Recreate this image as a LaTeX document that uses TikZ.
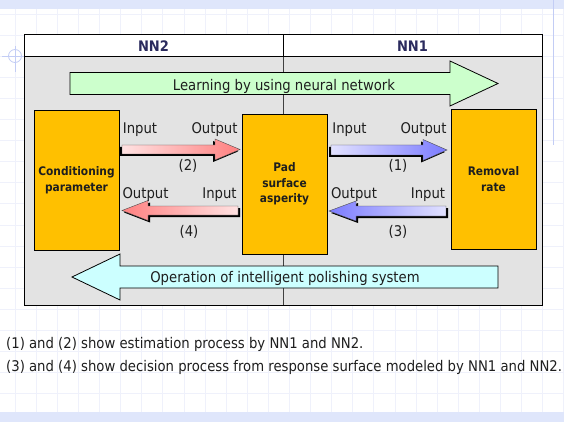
\documentclass[tikz,border=0pt]{standalone}
\usepackage{fontspec}
\setmainfont{DejaVu Sans}[FakeStretch=0.9]
\definecolor{gridc}{HTML}{EFF1FB}
\definecolor{bandc}{HTML}{DFE6FB}
\definecolor{guidec}{HTML}{C3CDF5}
\definecolor{panelc}{HTML}{E3E3E3}
\definecolor{boxc}{HTML}{FFC000}
\definecolor{greenc}{HTML}{CCFFCC}
\definecolor{cyanc}{HTML}{CCFFFF}
\definecolor{navy}{HTML}{2B2B5E}
\definecolor{redL}{HTML}{FFE2E2}
\definecolor{redD}{HTML}{FF8080}
\definecolor{bluL}{HTML}{E2E2FF}
\definecolor{bluD}{HTML}{7B7BFF}
\definecolor{txt}{HTML}{1E1E1E}
% #1 tail x, #2 tip x, #3 mid y, #4 shaft half, #5 head half, #6 head start x, #7 style, #8 shadow style
\newcommand\blockarrow[8]{%
  \path[#8] ({#1},{#3-#4}) -- ({#6},{#3-#4}) -- ({#6},{#3-#5}) -- ({#2},{#3}) -- ({#6},{#3+#5}) -- ({#6},{#3+#4}) -- ({#1},{#3+#4}) -- cycle;
  \path[#7] ({#1},{#3-#4}) -- ({#6},{#3-#4}) -- ({#6},{#3-#5}) -- ({#2},{#3}) -- ({#6},{#3+#5}) -- ({#6},{#3+#4}) -- ({#1},{#3+#4}) -- cycle;
}
\begin{document}
\begin{tikzpicture}[x=1pt,y=-1pt,
  lbl/.style={font=\fontsize{14.7}{17}\selectfont, text=txt, inner sep=0pt, anchor=base},
  hdr/.style={font=\bfseries\fontsize{14.5}{17}\selectfont, text=navy, inner sep=0pt},
  block/.style={draw=black, line width=0.8pt, fill=boxc, inner sep=0pt,
    minimum width=85pt, minimum height=140pt, align=center,
    font=\bfseries\fontsize{11.8}{15.5}\selectfont, text=txt},
  shadowR/.style={fill=black, shift={(-2,2)}},
  shadowL/.style={fill=black, shift={(2,2)}},
  redR/.style={left color=redL, right color=redD, draw=black!70, line width=0.4pt},
  redLf/.style={left color=redD, right color=redL, draw=black!70, line width=0.4pt},
  bluR/.style={left color=bluL, right color=bluD, draw=black!70, line width=0.4pt},
  bluLf/.style={left color=bluD, right color=bluL, draw=black!70, line width=0.4pt},
  nosh/.style={draw=none, fill=none}
]
\useasboundingbox (0,0) rectangle (564,422);
\fill[white] (0,0) rectangle (564,422);
% background grid
\foreach \k in {0,...,26} \draw[gridc, line width=0.5pt] ({15+21.1*\k},0) -- ({15+21.1*\k},422);
\foreach \k in {-2,...,17} \draw[gridc, line width=0.5pt] (0,{56+21.1*\k}) -- (564,{56+21.1*\k});
% template bands and guides
\fill[bandc] (0,0) rectangle (564,9);
\fill[bandc] (0,412) rectangle (564,422);
\draw[guidec, line width=1pt] (553,0) -- (553,145);
\draw[guidec, line width=0.8pt] (15,56) circle (6.5);
\draw[guidec, line width=0.8pt] (2,56) -- (26,56);
\draw[guidec, line width=0.8pt] (15,46) -- (15,72);
% frame
\draw[line width=1pt, fill=panelc] (24,57) rectangle (542,305);
\draw[line width=1pt, fill=white] (24,35) rectangle (542,57);
\draw[line width=1pt] (283,35) -- (283,57);
\draw[black!75, line width=0.8pt] (283,57) -- (283,305);
\node[hdr] (nn2) at (153.5,46.5) {NN2};
\node[hdr] (nn1) at (412.5,46.5) {NN1};
% big arrows
\blockarrow{70}{498}{83.5}{11}{22.5}{450}{fill=greenc, draw=black, line width=0.8pt}{nosh}
\node[lbl] (learn) at (284,90.5) {Learning by using neural network};
\blockarrow{498}{72}{277}{11}{23}{120}{fill=cyanc, draw=black, line width=0.8pt}{nosh}
\node[lbl] (oper) at (285,282) {Operation of intelligent polishing system};
% boxes
\node[block] (cond) at (76.5,180) {Conditioning\\parameter};
\node[block] (pad) at (284.5,184) {Pad\\surface\\asperity};
\node[block] (rem) at (493.5,179) {Removal\\rate};
% small arrows
\blockarrow{122}{240}{149.5}{4.5}{10.5}{215}{redR}{shadowR}
\blockarrow{238}{122}{210.5}{4.5}{10}{148}{redLf}{shadowL}
\blockarrow{331}{447}{150}{5}{10.5}{423}{bluR}{shadowR}
\blockarrow{446}{329}{211}{5}{10}{356}{bluLf}{shadowL}
% labels
\node[lbl] (in2) at (140,134) {Input};
\node[lbl] (out2) at (214.5,134) {Output};
\node[lbl] (n2) at (188,171) {(2)};
\node[lbl] (out4) at (145.5,198) {Output};
\node[lbl] (in4) at (219.5,198) {Input};
\node[lbl] (n4) at (189,236) {(4)};
\node[lbl] (in1) at (349.5,134) {Input};
\node[lbl] (out1) at (423.5,134) {Output};
\node[lbl] (n1) at (398,171) {(1)};
\node[lbl] (out3) at (354,198) {Output};
\node[lbl] (in3) at (428,198) {Input};
\node[lbl] (n3) at (398,236) {(3)};
% notes
\node[lbl, anchor=base west] (note1) at (6,348) {(1) and (2) show estimation process by NN1 and NN2.};
\node[lbl, anchor=base west] (note2) at (6,371) {(3) and (4) show decision process from response surface modeled by NN1 and NN2.};
\end{tikzpicture}
\end{document}
